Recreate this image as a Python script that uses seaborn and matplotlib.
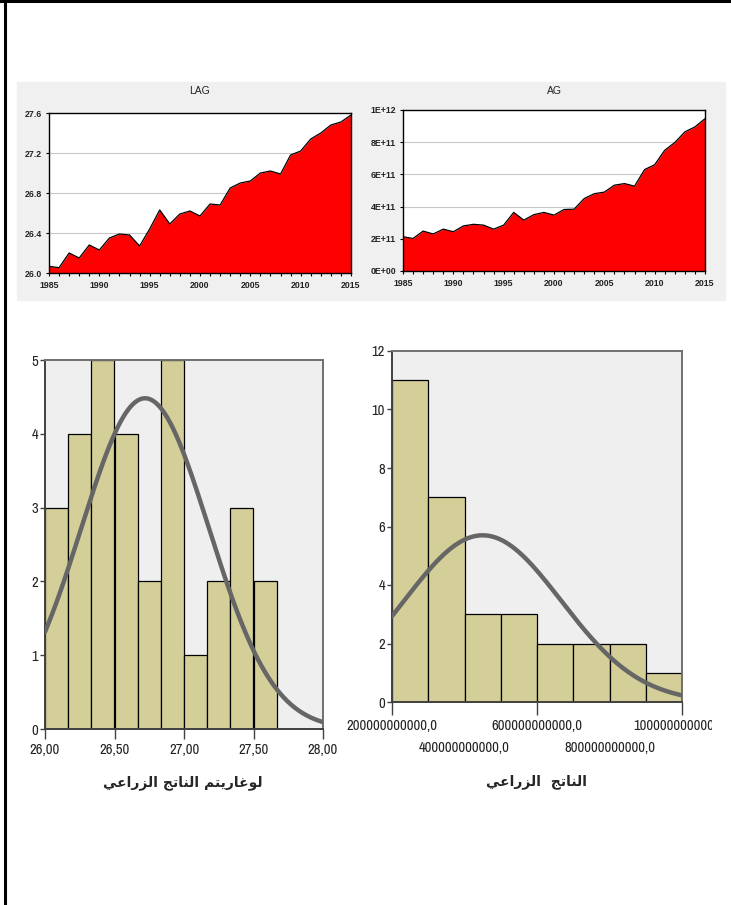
import matplotlib
matplotlib.use("Agg")
import matplotlib.pyplot as plt
from matplotlib import font_manager
from matplotlib.lines import Line2D
from matplotlib.patches import Rectangle
from matplotlib.transforms import Bbox, TransformedBbox
import numpy as np
import pandas as pd
import seaborn as sns

# ---- data ----
years = list(range(1985, 2016))
lag = [26.067, 26.053, 26.20, 26.15, 26.28, 26.23, 26.35, 26.39, 26.38, 26.27,
       26.44, 26.63, 26.49, 26.59, 26.62, 26.57, 26.69, 26.68, 26.85, 26.90,
       26.92, 27.00, 27.02, 26.99, 27.18, 27.22, 27.34, 27.40, 27.48, 27.51,
       27.58]
ag = [2.13e11, 2.02e11, 2.48e11, 2.30e11, 2.60e11, 2.44e11, 2.80e11, 2.90e11,
      2.85e11, 2.60e11, 2.85e11, 3.64e11, 3.16e11, 3.50e11, 3.64e11, 3.47e11,
      3.82e11, 3.84e11, 4.50e11, 4.80e11, 4.90e11, 5.33e11, 5.43e11, 5.27e11,
      6.30e11, 6.60e11, 7.50e11, 7.98e11, 8.64e11, 8.95e11, 9.46e11]

lag_edges = [26.0, 26.1667, 26.3333, 26.5, 26.6667, 26.8333, 27.0, 27.1667,
             27.3333, 27.5, 27.6667]
lag_counts = [3, 4, 5, 4, 2, 5, 1, 2, 3, 2]
lag_mean, lag_sd = 26.72, 0.46

ag_edges = [2e11, 3e11, 4e11, 5e11, 6e11, 7e11, 8e11, 9e11, 1e12]
ag_counts = [11, 7, 3, 3, 2, 2, 2, 1]
ag_mean, ag_sd = 4.5e11, 2.17e11

lag_label = "لوغاريتم الناتج الزراعي"
ag_label = "الناتج  الزراعي"

# ---- minimal arabic shaping (matplotlib has no complex text layout) ----
FORMS = {  # isolated, final, initial, medial
    "ا": ("\uFE8D", "\uFE8E", None, None),
    "ت": ("\uFE95", "\uFE96", "\uFE97", "\uFE98"),
    "ج": ("\uFE9D", "\uFE9E", "\uFE9F", "\uFEA0"),
    "ر": ("\uFEAD", "\uFEAE", None, None),
    "ز": ("\uFEAF", "\uFEB0", None, None),
    "ع": ("\uFEC9", "\uFECA", "\uFECB", "\uFECC"),
    "غ": ("\uFECD", "\uFECE", "\uFECF", "\uFED0"),
    "ل": ("\uFEDD", "\uFEDE", "\uFEDF", "\uFEE0"),
    "م": ("\uFEE1", "\uFEE2", "\uFEE3", "\uFEE4"),
    "ن": ("\uFEE5", "\uFEE6", "\uFEE7", "\uFEE8"),
    "و": ("\uFEED", "\uFEEE", None, None),
    "ي": ("\uFEF1", "\uFEF2", "\uFEF3", "\uFEF4"),
}


def shape(text):
    words = []
    for word in text.split(" "):
        res = []
        for i, c in enumerate(word):
            iso, fin, ini, med = FORMS[c]
            joins_prev = i > 0 and FORMS[word[i - 1]][2] is not None
            has_next = i < len(word) - 1
            if joins_prev and has_next and med:
                res.append(med)
            elif joins_prev:
                res.append(fin)
            elif has_next and ini:
                res.append(ini)
            else:
                res.append(iso)
        words.append("".join(reversed(res)))
    return " ".join(reversed(words))


sns.set_style("white")
small = ["Liberation Sans", "DejaVu Sans"]

# narrow face for the SPSS-style tick labels, if any is installed
fonts = font_manager.fontManager.ttflist
narrow_names = [f.name for f in fonts if "Narrow" in f.name]
dv_cond = [f for f in fonts if f.name == "DejaVu Sans"
           and str(f.stretch) in ("condensed", "semi-condensed", "500", "625",
                                  "750")]
if narrow_names:
    tick_font = dict(family=narrow_names[0], size=10.5)
elif dv_cond:
    tick_font = dict(family="DejaVu Sans", stretch="condensed", size=10)
else:
    tick_font = dict(family="Liberation Sans", size=9)

W, H = 731, 905
PT = 72 / 100  # points per pixel
fig = plt.figure(figsize=(W / 100, H / 100), dpi=100)


def px(x0, y0, x1, y1):
    return [x0 / W, 1 - y1 / H, (x1 - x0) / W, (y1 - y0) / H]


# page frame (top and left edges)
fig.add_artist(Line2D([0, 1], [1 - 1 / H, 1 - 1 / H], color="black", lw=2.2))
fig.add_artist(Line2D([5 / W, 5 / W], [0, 1], color="black", lw=2.2))

# grey panels behind the two line charts
for x0, x1 in [(17, 358), (358, 725)]:
    fig.add_artist(Rectangle((x0 / W, 1 - 300 / H), (x1 - x0) / W, 218 / H,
                             transform=fig.transFigure, color="#F0F0F0",
                             zorder=0))

series = pd.DataFrame({"year": years, "LAG": lag, "AG": ag})

top = [
    ("LAG", px(49, 113, 351, 273), (26.0, 27.6),
     [26.0, 26.4, 26.8, 27.2, 27.6], ["26.0", "26.4", "26.8", "27.2", "27.6"]),
    ("AG", px(403, 110, 705, 271), (0, 1e12),
     [0, 2e11, 4e11, 6e11, 8e11, 1e12],
     ["0E+00", "2E+11", "4E+11", "6E+11", "8E+11", "1E+12"]),
]
for name, pos, ylim, yt, ytl in top:
    ax = fig.add_axes(pos)
    ax.set_facecolor("white")
    ax.fill_between(series["year"], series[name], ylim[0], color="#FF0000",
                    lw=0, zorder=2)
    sns.lineplot(data=series, x="year", y=name, color="black", lw=0.9,
                 ax=ax, zorder=3)
    ax.set_xlim(1985, 2015)
    ax.set_ylim(*ylim)
    ax.set_yticks(yt, ytl)
    ax.set_xticks(range(1985, 2016, 5))
    ax.set_xticks(years, minor=True)
    for t in yt[1:-1]:
        ax.axhline(t, color="#C8C8C8", lw=0.8, zorder=1)
    ax.tick_params(axis="both", which="both", direction="out",
                   length=3 * PT, width=0.8, color="black", labelsize=6.3,
                   pad=4 * PT, labelcolor="#222222")
    ax.tick_params(axis="x", pad=5 * PT)
    ax.tick_params(left=True, bottom=True)
    ax.tick_params(axis="x", which="minor", bottom=True)
    for lbl in ax.get_xticklabels() + ax.get_yticklabels():
        lbl.set_family(small)
        lbl.set_fontweight("bold")
    for sp in ax.spines.values():
        sp.set_color("black")
        sp.set_linewidth(1.0)
        sp.set_zorder(4)
    ax.set_xlabel("")
    ax.set_ylabel("")
    fig.text(pos[0] + pos[2] / 2, 1 - 91 / H, name, ha="center", va="center",
             fontsize=7.5, family=small, color="#222222")

# ---- histograms with normal curves ----
bar_color = "#D4CF98"
curve_color = "#666666"

hists = [
    (px(45, 360, 323, 729), lag_edges, lag_counts, lag_mean, lag_sd,
     (26.0, 28.0), (0, 5)),
    (px(392, 351, 682, 702), ag_edges, ag_counts, ag_mean, ag_sd,
     (2e11, 1e12), (0, 12)),
]
hist_axes = []
for pos, edges, counts, mu, sd, xlim, ylim in hists:
    ax = fig.add_axes(pos)
    ax.set_facecolor("#EFEFEF")
    centers = [(a + b) / 2 for a, b in zip(edges[:-1], edges[1:])]
    sns.histplot(x=centers, weights=counts, bins=edges, ax=ax,
                 color=bar_color, alpha=1, edgecolor="black", linewidth=0.9,
                 zorder=2)
    width = edges[1] - edges[0]
    xs = np.linspace(xlim[0], xlim[1], 300)
    ys = sum(counts) * width / (sd * np.sqrt(2 * np.pi)) * \
        np.exp(-0.5 * ((xs - mu) / sd) ** 2)
    sns.lineplot(x=xs, y=ys, color=curve_color, lw=3.2, ax=ax, zorder=3)
    ax.set_xlim(*xlim)
    ax.set_ylim(*ylim)
    ax.set_xlabel("")
    ax.set_ylabel("")
    for sp in ax.spines.values():
        sp.set_color("#707070")
        sp.set_linewidth(1.4)
    ax.spines["left"].set_color("#404040")
    ax.spines["bottom"].set_color("#404040")
    ax.tick_params(axis="both", which="both", direction="out", color="#404040",
                   width=1.0, labelcolor="#222222")
    ax.tick_params(left=True, bottom=True)
    ax.tick_params(axis="y", length=5 * PT, pad=2 * PT)
    hist_axes.append(ax)

ax1, ax2 = hist_axes
ax1.set_yticks(range(0, 6))
ax1.set_xticks([26.0, 26.5, 27.0, 27.5, 28.0],
               ["26,00", "26,50", "27,00", "27,50", "28,00"])
ax1.tick_params(axis="x", length=10 * PT, pad=4 * PT)

ax2.set_yticks(range(0, 13, 2))
ax2.set_xticks([2e11, 6e11, 1e12],
               ["200000000000,0", "600000000000,0", "1000000000000,0"])
ax2.set_xticks([4e11, 8e11], ["400000000000,0", "800000000000,0"],
               minor=True)
ax2.tick_params(axis="x", which="major", length=13 * PT, pad=4 * PT)
ax2.tick_params(axis="x", which="minor", length=36 * PT, pad=3 * PT)

for ax in hist_axes:
    for lbl in (ax.get_xticklabels() + ax.get_yticklabels()
                + ax.get_xticklabels(minor=True)):
        lbl.set_fontproperties(font_manager.FontProperties(**tick_font))

last = ax2.get_xticklabels()[-1]
last.set_clip_on(True)
last.set_clip_box(TransformedBbox(Bbox.from_extents(0, 0, 712 / W, 1),
                                  fig.transFigure))

fig.text(183 / W, 1 - 783 / H, shape(lag_label), ha="center", va="center",
         fontsize=10, fontweight="bold", family=["DejaVu Sans"])
fig.text(537 / W, 1 - 782 / H, shape(ag_label), ha="center", va="center",
         fontsize=10, fontweight="bold", family=["DejaVu Sans"])

fig.savefig("out.png", dpi=100)
